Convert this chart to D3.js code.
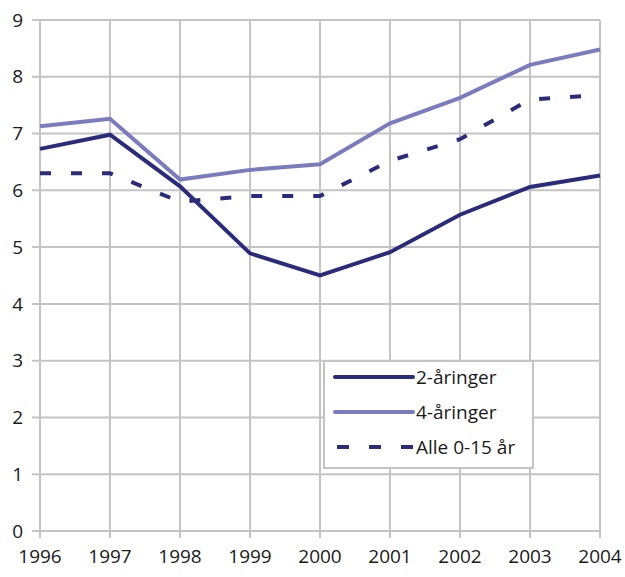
<!DOCTYPE html>
<html>
<head>
<meta charset="utf-8">
<script src="https://cdn.jsdelivr.net/npm/d3@7"></script>
<style>
  html, body { margin: 0; padding: 0; background: #fff; }
  svg text { font-family: "Open Sans", "Noto Sans", sans-serif; fill: #1a1a1a; }
</style>
</head>
<body>
<svg id="chart" width="625" height="577"></svg>
<script>
const years = [1996, 1997, 1998, 1999, 2000, 2001, 2002, 2003, 2004];
const seriesNames = ["2-åringer", "4-åringer", "Alle 0-15 år"];
const toddlers2 = [6.73, 6.98, 6.07, 4.89, 4.5, 4.91, 5.57, 6.06, 6.26];
const toddlers4 = [7.13, 7.26, 6.19, 6.36, 6.46, 7.18, 7.63, 8.21, 8.48];
const all0to15 = [6.3, 6.3, 5.8, 5.9, 5.9, 6.52, 6.9, 7.6, 7.68];
const yTicks = [0, 1, 2, 3, 4, 5, 6, 7, 8, 9];

const styles = [
  { color: "#2b2b7c", dash: null },
  { color: "#7b7bbf", dash: null },
  { color: "#2b2b7c", dash: "11,20" }
];
const data = [toddlers2, toddlers4, all0to15];

const svg = d3.select("#chart");
const pLeft = 40, pRight = 600, pTop = 20, pBottom = 531;

const x = d3.scalePoint().domain(years).range([pLeft, pRight]);
const y = d3.scaleLinear().domain([0, 9]).range([pBottom, pTop]);

const grid = svg.append("g");
grid.selectAll("line.h").data(yTicks).join("line")
  .attr("class", "h")
  .attr("x1", pLeft - 8).attr("x2", pRight)
  .attr("y1", d => y(d)).attr("y2", d => y(d))
  .attr("stroke", "#c4c4c4").attr("stroke-width", 2);
grid.selectAll("line.v").data(years).join("line")
  .attr("class", "v")
  .attr("x1", d => x(d)).attr("x2", d => x(d))
  .attr("y1", pTop).attr("y2", pBottom + 7)
  .attr("stroke", "#c4c4c4").attr("stroke-width", 2);

svg.append("g").selectAll("text").data(yTicks).join("text")
  .attr("x", 23).attr("y", d => y(d))
  .attr("dy", "0.35em")
  .attr("text-anchor", "end")
  .attr("font-size", 19)
  .text(d => d);

svg.append("g").selectAll("text").data(years).join("text")
  .attr("x", d => x(d)).attr("y", 563)
  .attr("text-anchor", "middle")
  .attr("font-size", 19)
  .text(d => d);

const line = d3.line().x((d, i) => x(years[i])).y(d => y(d));

[1, 0, 2].forEach(k => {
  svg.append("path")
    .attr("d", line(data[k]))
    .attr("fill", "none")
    .attr("stroke", styles[k].color)
    .attr("stroke-width", 4)
    .attr("stroke-linejoin", "miter")
    .attr("stroke-dasharray", styles[k].dash);
});

const lg = svg.append("g");
lg.append("rect")
  .attr("x", 324).attr("y", 361).attr("width", 209).attr("height", 107)
  .attr("fill", "#fff").attr("stroke", "#c4c4c4").attr("stroke-width", 2);
const rowsY = [377, 412, 447];
seriesNames.forEach((name, i) => {
  lg.append("line")
    .attr("x1", 335).attr("x2", 413)
    .attr("y1", rowsY[i]).attr("y2", rowsY[i])
    .attr("stroke", styles[i].color)
    .attr("stroke-width", 4)
    .attr("stroke-linecap", styles[i].dash ? "butt" : "round")
    .attr("stroke-dasharray", styles[i].dash ? "12,20" : null)
    .attr("stroke-dashoffset", styles[i].dash ? -2 : null);
  lg.append("text")
    .attr("x", 416).attr("y", rowsY[i])
    .attr("dy", "0.35em")
    .attr("font-size", 19)
    .text(name);
});
</script>
</body>
</html>
